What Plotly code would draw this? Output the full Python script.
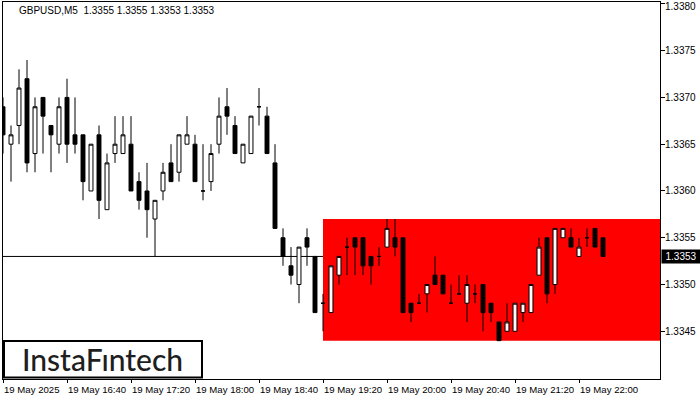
import plotly.graph_objects as go
import pandas as pd

# ---- data (GBPUSD M5, 19 May 2025 16:00 .. 22:15) ----
opens = [1.3369, 1.3365, 1.3367, 1.3372, 1.3364, 1.3370, 1.3367, 1.3365, 1.3370, 1.3366,
         1.3366, 1.3360, 1.3366, 1.3358, 1.3364, 1.3364, 1.3365, 1.3361, 1.3360, 1.3357,
         1.3360, 1.3363, 1.3362, 1.3365, 1.3365, 1.3360, 1.3361, 1.3365, 1.3369, 1.3367,
         1.3363, 1.3364, 1.3369, 1.3368, 1.3363, 1.3355, 1.3352, 1.3350, 1.3355, 1.3353,
         1.3348, 1.3347, 1.3351, 1.3354, 1.3355, 1.3355, 1.3353, 1.3353, 1.3354, 1.3355,
         1.3355, 1.3348, 1.3348, 1.3349, 1.3351, 1.3351, 1.3348, 1.3349, 1.3348, 1.3349,
         1.3350, 1.3348, 1.3346, 1.3345, 1.3345, 1.3347, 1.3347, 1.3351, 1.3355, 1.3350,
         1.3355, 1.3355, 1.3353, 1.3355, 1.3356, 1.3355]
highs = [1.3370, 1.3367, 1.3373, 1.3374, 1.3370, 1.3370, 1.3367, 1.3370, 1.3372, 1.3370,
         1.3366, 1.3365, 1.3367, 1.3364, 1.3368, 1.3368, 1.3368, 1.3362, 1.3363, 1.3359,
         1.3363, 1.3365, 1.3366, 1.3368, 1.3366, 1.3365, 1.3365, 1.3370, 1.3371, 1.3368,
         1.3365, 1.3368, 1.3371, 1.3369, 1.3365, 1.3356, 1.3354, 1.3354, 1.3356, 1.3353,
         1.3349, 1.3352, 1.3353, 1.3355, 1.3355, 1.3355, 1.3353, 1.3354, 1.3357, 1.3357,
         1.3355, 1.3348, 1.3349, 1.3350, 1.3353, 1.3351, 1.3350, 1.3351, 1.3351, 1.3350,
         1.3350, 1.3348, 1.3346, 1.3348, 1.3348, 1.3348, 1.3350, 1.3355, 1.3355, 1.3356,
         1.3356, 1.3356, 1.3355, 1.3356, 1.3356, 1.3355]
lows = [1.3364, 1.3361, 1.3365, 1.3362, 1.3362, 1.3364, 1.3362, 1.3364, 1.3363, 1.3364,
        1.3359, 1.3360, 1.3357, 1.3358, 1.3363, 1.3364, 1.3360, 1.3358, 1.3355, 1.3353,
        1.3359, 1.3361, 1.3361, 1.3365, 1.3361, 1.3359, 1.3360, 1.3364, 1.3366, 1.3364,
        1.3363, 1.3364, 1.3367, 1.3364, 1.3356, 1.3352, 1.3350, 1.3348, 1.3352, 1.3347,
        1.3345, 1.3347, 1.3350, 1.3351, 1.3351, 1.3351, 1.3350, 1.3352, 1.3354, 1.3353,
        1.3347, 1.3346, 1.3348, 1.3347, 1.3350, 1.3349, 1.3348, 1.3349, 1.3346, 1.3348,
        1.3345, 1.3346, 1.3344, 1.3345, 1.3345, 1.3346, 1.3347, 1.3351, 1.3348, 1.3349,
        1.3355, 1.3354, 1.3353, 1.3354, 1.3354, 1.3353]
closes = [1.3366, 1.3366, 1.3371, 1.3363, 1.3369, 1.3368, 1.3366, 1.3369, 1.3365, 1.3365,
          1.3361, 1.3365, 1.3359, 1.3363, 1.3365, 1.3366, 1.3360, 1.3359, 1.3358, 1.3359,
          1.3362, 1.3361, 1.3366, 1.3366, 1.3361, 1.3360, 1.3364, 1.3368, 1.3368, 1.3364,
          1.3365, 1.3368, 1.3369, 1.3364, 1.3356, 1.3353, 1.3351, 1.3354, 1.3354, 1.3347,
          1.3348, 1.3352, 1.3353, 1.3354, 1.3354, 1.3352, 1.3352, 1.3353, 1.3356, 1.3354,
          1.3347, 1.3347, 1.3348, 1.3350, 1.3350, 1.3349, 1.3348, 1.3349, 1.3350, 1.3349,
          1.3347, 1.3347, 1.3344, 1.3346, 1.3348, 1.3348, 1.3350, 1.3354, 1.3349, 1.3356,
          1.3356, 1.3354, 1.3354, 1.3355, 1.3354, 1.3353]

x_labels = ["19 May 2025", "19 May 16:40", "19 May 17:20", "19 May 18:00", "19 May 18:40",
            "19 May 19:20", "19 May 20:00", "19 May 20:40", "19 May 21:20", "19 May 22:00"]
label_bars = [0, 8, 16, 24, 32, 40, 48, 56, 64, 72]
y_ticks = [1.3345, 1.3350, 1.3355, 1.3360, 1.3365, 1.3370, 1.3375, 1.3380]

zone_low, zone_high, zone_start = 1.3344, 1.3357, 40
last_price = 1.3353
title_text = "GBPUSD,M5  1.3355 1.3355 1.3353 1.3353"
logo_text = "InstaFıntech"

# ---- figure ----
xs = list(range(len(opens)))
times = pd.date_range("2025-05-19 16:00", periods=len(opens), freq="5min")

W, H = 700, 400
ml, mr, mt, mb = 3, 40, 2, 21
pw, ph = W - ml - mr, H - mt - mb
x_max = pw / 8.0
FONT = "Liberation Sans"

fig = go.Figure()
fig.add_trace(go.Candlestick(
    x=xs, open=opens, high=highs, low=lows, close=closes,
    increasing=dict(fillcolor="white", line=dict(color="black", width=1)),
    decreasing=dict(fillcolor="black", line=dict(color="black", width=1)),
    whiskerwidth=0, hovertext=[t.strftime("%H:%M") for t in times], showlegend=False,
))

fig.add_shape(type="rect", xref="x", yref="y", x0=zone_start, x1=x_max,
              y0=zone_low, y1=zone_high, fillcolor="#FF0000", line=dict(width=0), layer="below")
fig.add_shape(type="line", xref="paper", yref="y", x0=0, x1=1, y0=last_price, y1=last_price,
              line=dict(color="black", width=1), layer="below")


def px_x(p):
    return (p - ml) / pw


def px_y(p):
    return (H - mb - p) / ph


# logo
fig.add_shape(type="rect", xref="paper", yref="paper", x0=px_x(4), x1=px_x(202),
              y0=px_y(377.5), y1=px_y(341), fillcolor="white", line=dict(color="black", width=2))
fig.add_annotation(xref="paper", yref="paper", x=px_x(102), y=px_y(359), text=logo_text,
                   showarrow=False, xanchor="center", yanchor="middle",
                   font=dict(family="Lato", size=30, color="#1e1e1e", weight=500))

fig.add_annotation(xref="paper", yref="paper", x=px_x(17), y=px_y(11), text=title_text,
                   showarrow=False, xanchor="left", yanchor="middle",
                   font=dict(family=FONT, size=10, color="black"))

# bottom tick labels, left-aligned at tick
for b, lab in zip(label_bars, x_labels):
    fig.add_annotation(xref="x", yref="paper", x=b, y=px_y(389), text=lab, showarrow=False,
                       xanchor="left", yanchor="middle", xshift=-1,
                       font=dict(family=FONT, size=9.6, color="black"))

# right tick labels (top one kept inside the page)
for v in y_ticks:
    top = v == max(y_ticks)
    fig.add_annotation(xref="paper", yref="y", x=1, y=v, text=f"{v:.4f}", showarrow=False,
                       xanchor="left", yanchor="top" if top else "middle", xshift=4,
                       yshift=4 if top else 0, borderpad=0,
                       font=dict(family=FONT, size=10, color="black"))

# current price label
fig.add_annotation(xref="paper", yref="y", x=1, y=last_price, text=f"{last_price:.4f}",
                   showarrow=False, xanchor="left", yanchor="middle", xshift=1,
                   bgcolor="black", borderpad=1, width=36,
                   font=dict(family=FONT, size=10, color="white"))

fig.update_layout(
    width=W, height=H, margin=dict(l=ml, r=mr, t=mt, b=mb, autoexpand=False),
    paper_bgcolor="white", plot_bgcolor="white",
    showlegend=False,
    xaxis=dict(range=[0, x_max], rangeslider=dict(visible=False), showgrid=False, zeroline=False,
               showline=True, linecolor="black", linewidth=1, mirror=True,
               tickmode="array", tickvals=label_bars, ticktext=[""] * len(label_bars),
               ticks="outside", ticklen=3, tickcolor="black", showticklabels=False),
    yaxis=dict(range=[1.33399, 1.33802], side="right", showgrid=False, zeroline=False,
               showline=True, linecolor="black", linewidth=1, mirror=True,
               tickmode="array", tickvals=y_ticks, showticklabels=False,
               ticks="outside", ticklen=4, tickcolor="black"),
)

fig.write_html("out.html", config={"displayModeBar": False},
               post_script="document.body.style.margin='0';document.body.style.overflow='hidden';")
